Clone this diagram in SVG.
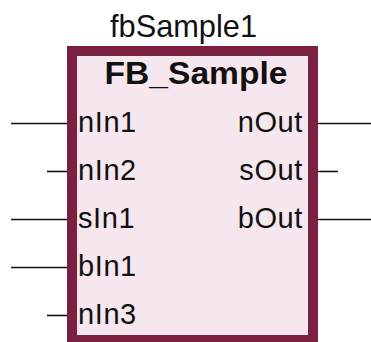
<svg xmlns="http://www.w3.org/2000/svg" width="371" height="342" viewBox="0 0 371 342">
<style>
.pin{font-family:"Liberation Sans",Arial,sans-serif;font-size:29px;fill:#111;letter-spacing:0.6px}
.wire{stroke:#111;stroke-width:1.6;fill:none}
</style>
<rect width="371" height="342" fill="#fff"/>
<g id="fbSample1">
<text x="183.5" y="37" text-anchor="middle" font-family="'Liberation Sans',Arial,sans-serif" font-size="30.5" fill="#111" textLength="147" lengthAdjust="spacingAndGlyphs">fbSample1</text>
<rect x="72" y="51" width="241" height="289" fill="#f6e6ed" stroke="#7b2042" stroke-width="10"/>
<text x="196" y="84" text-anchor="middle" font-family="'Liberation Sans',Arial,sans-serif" font-size="31.5" font-weight="bold" fill="#111" textLength="183" lengthAdjust="spacingAndGlyphs">FB_Sample</text>
<text class="pin" x="78" y="132">nIn1</text>
<text class="pin" x="78" y="180">nIn2</text>
<text class="pin" x="78" y="228">sIn1</text>
<text class="pin" x="78" y="276">bIn1</text>
<text class="pin" x="78" y="324">nIn3</text>
<text class="pin" x="303" y="132" text-anchor="end">nOut</text>
<text class="pin" x="303" y="180" text-anchor="end">sOut</text>
<text class="pin" x="303" y="228" text-anchor="end">bOut</text>
</g>
<g id="connectors">
<line class="wire" x1="11" y1="123.5" x2="67" y2="123.5"/>
<line class="wire" x1="47" y1="171.5" x2="67" y2="171.5"/>
<line class="wire" x1="11" y1="219.5" x2="67" y2="219.5"/>
<line class="wire" x1="11" y1="267.5" x2="67" y2="267.5"/>
<line class="wire" x1="47" y1="315.5" x2="67" y2="315.5"/>
<line class="wire" x1="318" y1="123.5" x2="371" y2="123.5"/>
<line class="wire" x1="318" y1="171.5" x2="338" y2="171.5"/>
<line class="wire" x1="318" y1="219.5" x2="371" y2="219.5"/>
</g>
</svg>
